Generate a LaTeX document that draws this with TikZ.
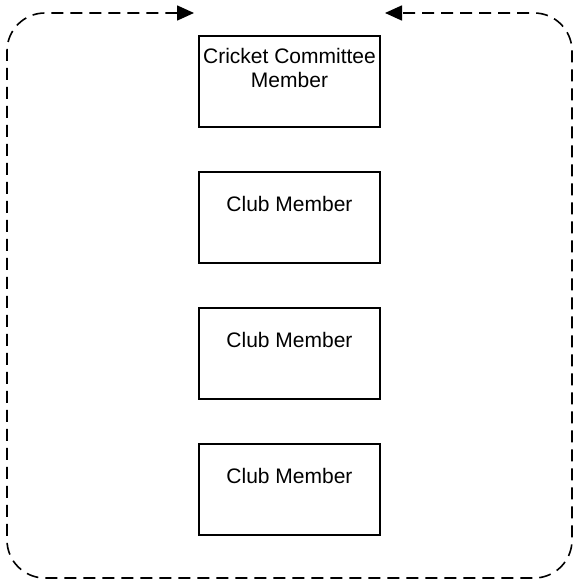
\documentclass[tikz,border=0pt]{standalone}
\usepackage{fontspec}
\setmainfont{Liberation Sans}
\usetikzlibrary{arrows.meta}
\tikzset{
  membox/.style={draw=black, line width=1.7pt, minimum width=181pt, minimum height=91pt, inner sep=0pt, fill=white},
  memtext/.style={font=\fontsize{21pt}{24.6pt}\selectfont, align=center, inner sep=0pt},
  loopline/.style={draw=black, line width=1.6pt, dash pattern=on 12pt off 7pt, rounded corners=38pt},
  looptip/.style={{Triangle[length=17pt,width=15pt]}-{Triangle[length=17pt,width=15pt]}}
}
\begin{document}
\begin{tikzpicture}[x=1pt,y=-1pt]
\useasboundingbox (0,0) rectangle (578,580);
\node[membox] (b1) at (289.5,81.5) {};
\node[membox] (b2) at (289.5,217.5) {};
\node[membox] (b3) at (289.5,353.5) {};
\node[membox] (b4) at (289.5,489.5) {};
\node[memtext] (t1) at (289.5,68) {Cricket Committee\\Member};
\node[memtext] (t2) at (289.5,204) {Club Member};
\node[memtext] (t3) at (289.5,340) {Club Member};
\node[memtext] (t4) at (289.5,476) {Club Member};
\coordinate (tipL) at (194,13);
\coordinate (tipR) at (385,13);
\draw[loopline, looptip] (tipL) -- (7,13) -- (7,578) -- (572,578) -- (572,13) -- (tipR);
\end{tikzpicture}
\end{document}
